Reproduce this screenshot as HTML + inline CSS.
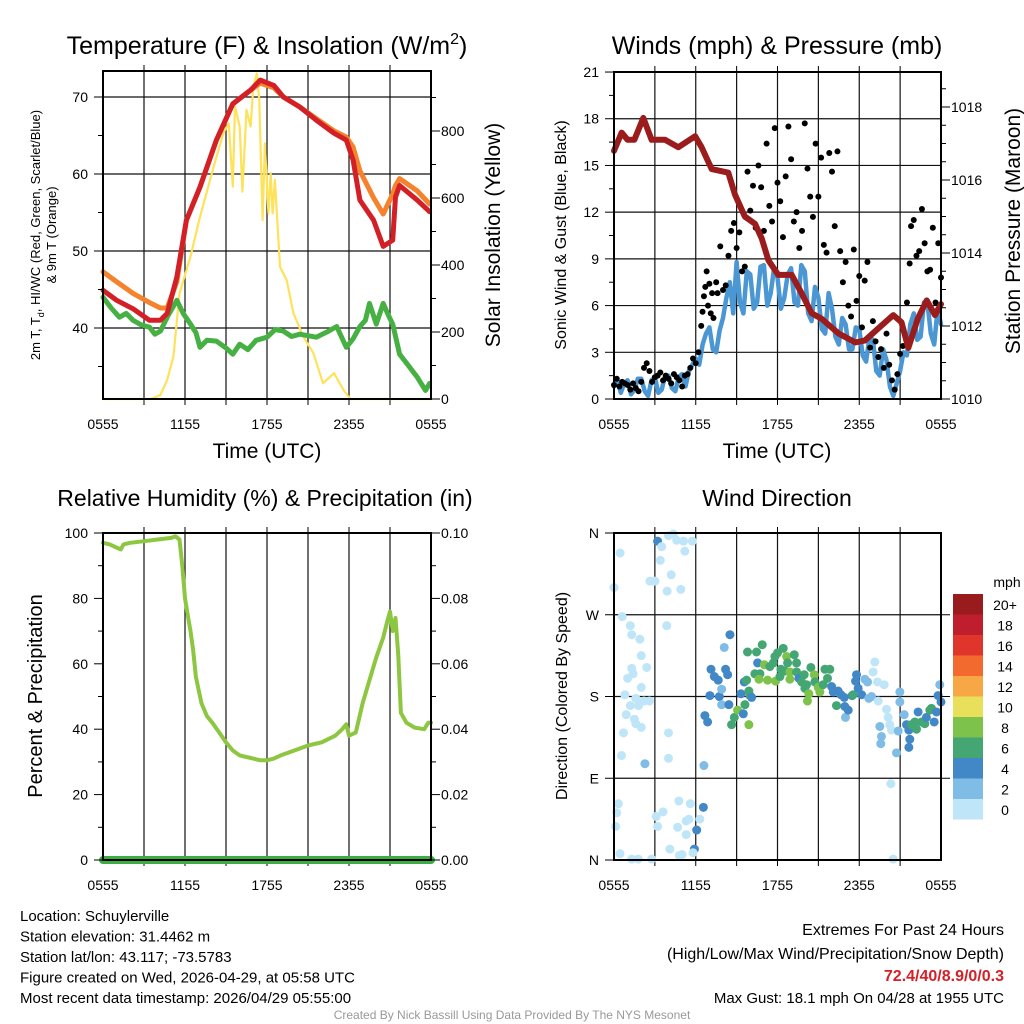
<!DOCTYPE html>
<html><head><meta charset="utf-8"><style>
html,body{margin:0;padding:0;background:#fff;}
svg{display:block;font-family:"Liberation Sans",sans-serif;}
</style></head><body>
<svg id="c" width="1024" height="1024" viewBox="0 0 1024 1024" xmlns="http://www.w3.org/2000/svg"></svg>
<script>
// ---------- DATA ----------
const xTickLabels = ["0555","1155","1755","2355","0555"];
const tempHours = [0,1.0,2.2,3.4,4.2,4.7,5.4,6.1,7.1,8.3,9.5,10.8,11.5,12.5,13.2,14.4,15.6,16.9,17.8,18.3,18.8,19.8,20.5,21.2,21.4,21.7,23.0,23.9];
const tempRed = [44.9,43.6,42.5,41.0,41.0,41.9,46.6,54.0,58.3,64.4,69.1,70.9,72.2,71.5,70.0,68.7,67.0,65.3,64.4,61.8,56.6,54.0,50.6,51.4,57.0,58.5,56.6,55.1];
const tempOrange = [47.3,46.0,44.5,43.3,42.6,42.6,46.0,54.0,58.3,64.4,69.1,70.9,71.8,71.2,70.0,68.7,67.2,65.6,64.8,63.5,60.4,56.9,54.8,57.4,58.5,59.4,57.8,56.1];
const greenHours = [0,0.6,1.2,1.7,2.2,2.8,3.4,3.8,4.2,4.7,5.4,5.9,6.4,6.8,7.1,7.6,8.3,9.0,9.5,10.0,10.6,11.2,12.0,12.6,13.2,13.8,14.4,15.6,16.4,17.1,17.8,18.3,18.8,19.2,19.5,20.0,20.5,20.9,21.2,21.7,22.4,23.0,23.6,23.9];
const tempGreen = [44.0,42.6,41.4,41.9,41.0,40.4,40.1,39.2,39.6,41.4,43.6,41.8,40.5,39.4,37.5,38.4,38.3,37.4,36.6,37.9,37.2,38.4,38.8,39.8,39.6,38.9,39.2,38.8,39.5,40.2,37.5,38.6,40.2,41.0,43.2,40.5,43.2,41.6,40.5,36.6,35.0,33.6,31.9,32.8];
const solarHours = [0,3.5,4.2,4.7,5.15,5.6,6.4,7.1,8.1,8.8,9.2,9.5,9.66,10.0,10.2,10.5,10.8,11.0,11.25,11.44,11.68,11.85,12.1,12.27,12.41,12.58,12.95,13.44,13.93,14.66,15.4,16.1,16.9,17.6,18.1,24];
const solarVals = [0,0,12,57,126,315,425,544,694,793,823,634,873,813,619,863,813,932,972,892,534,763,554,674,554,654,395,355,256,186,136,47,77,27,0,0];
const windStepHours = 0.25;
const windSpeed = [0.8,1.2,0.4,1.0,1.2,0.3,0.6,1.3,1.3,0.5,0.2,1.2,1.4,0.4,0.6,1.5,1.5,0.7,0.5,1.4,1.6,0.8,1.8,2.2,
2.6,2.2,3.5,4.2,4.6,3.2,3.0,4.4,5.2,6.5,7.5,5.5,8.8,6.2,5.5,8.2,8.0,5.8,6.2,8.5,8.6,6.0,6.8,8.4,7.8,5.8,6.5,8.0,8.4,6.2,6.0,8.6,8.2,5.5,5.0,7.2,6.5,4.5,4.2,6.8,5.8,4.0,3.5,5.2,4.8,3.2,3.2,4.6,4.5,2.8,2.4,4.0,3.8,1.8,1.5,3.2,2.5,0.8,0.2,1.0,1.8,3.0,2.8,4.8,5.5,3.8,4.0,6.2,6.2,4.2,3.5,5.8,4.8];
const windHours = windSpeed.map((_,i)=>i*windStepHours);
const gustHours = [0,0.2,0.4,0.6,0.8,1.0,1.2,1.4,1.6,1.8,2.0,2.2,2.4,2.6,2.8,3.0,3.2,3.4,3.6,3.8,4.0,4.2,4.4,4.6,4.8,5.0,5.2,5.4,5.6,5.8,6.0,6.2,6.4,6.5,6.6,6.7,6.8,6.9,7.0,7.1,7.2,7.3,7.5,7.6,7.8,8.0,8.2,8.4,8.6,8.8,9.0,9.2,9.4,9.6,9.8,10.0,10.2,10.4,10.6,10.8,11.0,11.2,11.4,11.6,11.8,12.0,12.2,12.4,12.6,12.8,13.0,13.2,13.4,13.6,13.8,14.0,14.2,14.4,14.6,14.8,15.0,15.2,15.4,15.6,15.8,16.0,16.2,16.4,16.6,16.8,17.0,17.2,17.4,17.6,17.8,18.0,18.2,18.4,18.6,18.8,19.0,19.2,19.4,19.6,19.8,20.0,20.2,20.4,20.6,20.8,21.0,21.2,21.5,21.7,21.8,22.0,22.2,22.4,22.6,22.8,23.0,23.2,23.4,23.6,23.8,24.0];
const gustSpeed = [0.9,1.3,0.8,1.1,1.0,0.9,0.6,1.0,0.7,0.5,1.1,2.0,2.3,1.8,1.1,1.4,1.5,1.7,1.2,1.5,1.3,1.0,1.6,1.4,1.2,0.8,1.5,1.6,2.0,2.6,2.3,3.0,4.7,5.6,6.6,7.2,8.2,6.0,7.4,5.5,6.8,5.2,7.5,6.8,9.8,7.0,7.3,9.2,10.8,11.3,9.7,10.7,8.2,8.5,14.6,12.1,13.7,11.0,15.0,13.6,10.8,16.4,12.4,11.4,17.4,13.9,12.7,10.4,14.3,17.5,15.4,11.4,12.0,9.7,10.8,17.7,14.8,13.0,11.7,16.4,13.0,15.5,9.9,9.4,15.8,14.6,11.1,15.9,9.5,7.5,8.8,6.0,5.3,9.6,6.3,7.9,4.6,7.6,8.8,3.3,5.0,3.7,2.7,3.2,2.0,4.2,2.2,1.2,0.6,1.6,2.9,3.4,6.2,8.7,11.1,11.5,9.2,9.5,12.2,10.0,8.2,8.3,11.0,6.2,10.0,7.8];
const presHours = [0,0.56,1.0,1.5,2.15,2.76,3.74,4.72,5.95,6.43,7.17,8.39,8.88,9.6,10.35,10.84,11.33,12.06,13.04,13.77,14.5,15.24,16.46,17.7,18.4,19.6,20.5,21.1,21.6,22.3,22.95,23.56,24.0];
const presVals = [1016.8,1017.3,1017.1,1017.1,1017.7,1017.1,1017.1,1016.9,1017.2,1016.9,1016.3,1016.2,1015.6,1015.0,1014.8,1014.4,1013.8,1013.4,1013.4,1012.9,1012.35,1012.2,1011.8,1011.55,1011.6,1012.0,1012.3,1012.1,1011.4,1012.2,1012.7,1012.3,1012.6];
const rhHours = [0,0.5,1,1.3,1.5,2,3,4,5,5.3,5.6,5.8,6,6.2,6.4,6.6,6.8,7.2,7.6,8,8.5,9,9.5,10,10.5,11,11.5,12,12.5,13,14,15,16,17,17.5,17.8,18,18.5,19,19.5,20,20.5,20.8,21,21.2,21.4,21.6,21.8,22.2,22.8,23.5,23.8,24];
const rhVals = [97,96.5,95.5,95,96.5,97,97.5,98,98.5,99,98,90,80,75,70,64,56,48,44,42,39,36,33.5,32,31.5,31,30.5,30.5,31,32,33.5,35,36,38,40,41.5,38,39,48,55,62,68,73,76,70,74,63,45,42,40.5,40,42,42];
const precipHours = [0,24];
const precipVals = [0,0];
const dirHours = [0.0,0.45,0.6,1.2,1.3,2.0,1.9,1.3,1.4,1.0,2.4,2.0,1.6,0.8,0.9,1.2,1.8,2.2,2.6,1.5,1.6,2.0,0.7,4.0,4.0,0.55,2.27,6.6,3.2,3.5,4.0,4.36,4.6,5.1,5.75,5.2,3.4,4.2,2.64,3.0,3.9,4.9,3.87,0.32,0.2,0.12,0.44,1.3,1.78,2.76,3.1,3.6,3.2,4.76,5.6,5.3,5.5,6.3,6.56,4.67,5.3,6.07,4.1,4.8,5.0,5.9,5.8,
6.67,6.87,7.04,7.12,7.36,7.65,7.73,7.9,7.9,8.19,8.34,8.51,8.09,8.43,8.63,8.83,9.07,9.32,9.49,9.61,9.56,9.73,9.9,9.98,9.9,10.1,9.8,10.46,10.54,10.34,10.71,10.88,10.64,11.03,11.27,11.44,11.69,11.81,12.0,11.86,12.18,12.25,12.42,12.67,12.74,12.54,12.91,12.91,13.23,13.4,13.4,13.57,13.77,13.96,14.01,14.13,14.2,14.3,14.45,14.7,14.74,14.99,15.11,15.35,15.48,15.84,15.67,15.97,16.09,16.33,16.45,16.65,16.9,16.94,16.99,17.19,17.48,17.55,17.73,17.8,17.92,18.17,18.41,18.61,18.7,18.9,19.02,19.14,19.34,19.39,19.83,20.0,20.12,20.24,20.37,19.51,19.63,19.58,20.32,20.49,20.73,20.86,20.98,20.98,21.3,21.47,21.64,21.71,21.64,21.83,22.08,22.2,22.32,22.57,22.81,22.93,23.18,23.3,23.5,23.67,23.91,24.0,23.79];
const dirDegrees = [300,338,268,258,248,225,243,211,205,200,212,190,178,182,160,170,170,175,175,155,150,146,140,140,112,115,106,104,351,345,357,359,352,351,351,340,330,314,307,307,296,298,258,62,52,37,7,1,1,1,48,53,37,65,62,43,45,45,58,36,28,33,12,5,6,12,8,
159,152,181,210,202,198,180,188,171,210,204,248,234,171,149,157,165,183,161,171,196,198,186,181,149,179,229,229,217,205,205,237,199,215,198,213,217,224,228,197,202,210,233,224,217,208,207,199,226,217,207,200,196,204,189,193,175,183,212,204,196,190,185,193,210,210,200,191,185,170,186,182,179,169,157,165,181,182,197,204,189,182,199,196,178,180,207,218,196,175,193,166,157,149,143,147,136,128,84,1,118,142,185,174,160,149,143,133,124,149,152,144,163,152,150,157,165,167,152,163,193,174,181];
const dirSpeed = [1,1,1,1,1,1,1,1,1,1,1,1,1,1,1,1,1,1,1,1,1,1,1,1,1,1,3,3,5,1,1,1,1,1,1,1,1,1,1,1,1,1,1,1,1,1,1,1,1,1,1,1,1,1,1,1,1,1,5,1,1,5,1,1,1,5,1,
5,5,5,5,5,5,5,3,3,5,5,5,3,5,7,7,9,5,5,7,5,7,7,7,9,5,7,7,5,7,7,7,9,9,9,7,7,7,7,9,7,7,7,9,7,7,9,9,7,7,7,5,7,7,7,7,9,9,7,9,7,9,9,7,7,7,7,5,5,7,5,5,5,5,3,5,5,7,5,5,5,5,3,3,3,3,1,1,1,1,1,1,1,1,1,3,3,3,1,1,3,3,3,3,3,5,5,5,5,7,7,7,5,7,7,5,7,7,5,5,3,5,5];
const cbLabels = ["20+","18","16","14","12","10","8","6","4","2","0"];
const cbColors = ["#9a1b1e","#be1e2d","#e0352b","#f26a2e","#f7a746","#e8e05a","#7dc24b","#44a773","#4288c6","#7fbce6","#bfe6f8"];

// ---------- DRAW ----------
const svg = document.getElementById('c');
const NS = 'http://www.w3.org/2000/svg';
function el(tag, attrs, parent){ const e=document.createElementNS(NS,tag); for(const k in attrs) e.setAttribute(k,attrs[k]); (parent||svg).appendChild(e); return e; }
function txt(s, x, y, size, anchor, extra){ const t=el('text',Object.assign({x:x,y:y,'font-size':size,'text-anchor':anchor||'middle',fill:'#000'},extra||{})); t.textContent=s; return t; }

const P = {
  p1:{x0:103,x1:431,y0:71,y1:399},
  p2:{x0:614,x1:941,y0:72,y1:399},
  p3:{x0:103,x1:431,y0:533,y1:860},
  p4:{x0:614,x1:941,y0:533,y1:860}
};
function xh(p,h){ return p.x0 + h*(p.x1-p.x0)/24; }
const yT = v => 328-(v-40)*7.7;
const yS = v => 399-v*0.335;
const yW = v => 399-v*15.57;
const yP = v => 399-(v-1010)*36.5;
const yRH = v => 860-v*3.27;
const yPr = v => 860-v*3270;
const yD = v => 860-v*0.9083;

function frame(p, name, hGrid){
  const g = el('g',{});
  
  
  for(let i=1;i<8;i++){ const x=xh(p,i*3); el('line',{x1:x,x2:x,y1:p.y0,y2:p.y1,stroke:'#111','stroke-width':1.2},g);
    el('line',{x1:x,x2:x,y1:p.y0-6,y2:p.y0,stroke:'#000','stroke-width':1},g);
    el('line',{x1:x,x2:x,y1:p.y1,y2:p.y1+6,stroke:'#000','stroke-width':1},g); }
  hGrid.forEach(y=>el('line',{x1:p.x0,x2:p.x1,y1:y,y2:y,stroke:'#111','stroke-width':1.2},g));
  xTickLabels.forEach((s,i)=>{ const x=xh(p,i*6); const t=txt(s,x,p.y1+30,14);   });
}
function box(p){ const r=el('rect',{x:p.x0,y:p.y0,width:p.x1-p.x0,height:p.y1-p.y0,fill:'none',stroke:'#000','stroke-width':2});
    }
function ticksL(p, vals, fy, labels, minor){
  vals.forEach((v,i)=>{ const y=fy(v); el('line',{x1:p.x0-9,x2:p.x0,y1:y,y2:y,stroke:'#000'});
    const t=txt(labels[i],p.x0-15,y+5,14,'end');   });
  (minor||[]).forEach(v=>{const y=fy(v); el('line',{x1:p.x0-5,x2:p.x0,y1:y,y2:y,stroke:'#000'});});
}
function ticksR(p, vals, fy, labels, minor){
  vals.forEach((v,i)=>{ const y=fy(v); el('line',{x1:p.x1,x2:p.x1+9,y1:y,y2:y,stroke:'#000'});
    const t=txt(labels[i],p.x1+10,y+5,14,'start');   });
  (minor||[]).forEach(v=>{const y=fy(v); el('line',{x1:p.x1,x2:p.x1+5,y1:y,y2:y,stroke:'#000'});});
}
function line(p, hs, vs, fy, color, w, name){
  const pts = hs.map((h,i)=>xh(p,h).toFixed(1)+','+fy(vs[i]).toFixed(1)).join(' ');
  const l=el('polyline',{points:pts,fill:'none',stroke:color,'stroke-width':w,'stroke-linejoin':'round','stroke-linecap':'round'});
    return l;
}

// Panel 1
const p1=P.p1;
frame(p1,'temperature-panel',[40,50,60,70].map(yT));
line(p1,solarHours,solarVals,yS,'#fde25a',2.2,'solar-insolation-line');
line(p1,tempHours,tempOrange,yT,'#f5822d',5,'9m-temperature-line');
line(p1,greenHours,tempGreen,yT,'#46b043',5,'dewpoint-line');
line(p1,tempHours,tempRed,yT,'#d32027',5,'2m-temperature-line');
box(p1);
ticksL(p1,[40,50,60,70],yT,["40","50","60","70"],[35,45,55,65]);
ticksR(p1,[0,200,400,600,800],yS,["0","200","400","600","800"],[100,300,500,700,900]);
let t;
t=txt('',267,54,25); t.innerHTML='Temperature (F) &amp; Insolation (W/m<tspan dy="-10" font-size="16">2</tspan><tspan dy="10">)</tspan>';
 
t=txt('Time (UTC)',267,458,21);  
t=txt('Solar Insolation (Yellow)',0,0,21,'middle',{transform:'translate(500,235) rotate(-90)'});  
t=txt('',0,0,13,'middle',{transform:'translate(40,235) rotate(-90)'});
t.innerHTML='2m T, T<tspan dy="4" font-size="9">d</tspan><tspan dy="-4">, HI/WC (Red, Green, Scarlet/Blue)</tspan>';
 
t=txt('',0,0,13,'middle',{transform:'translate(56,235) rotate(-90)'}); t.textContent='& 9m T (Orange)';
 

// Panel 2
const p2=P.p2;
frame(p2,'winds-panel',[3,6,9,12,15,18].map(yW));
line(p2,windHours,windSpeed,yW,'#4b97d3',4.5,'sonic-wind-line');
gustHours.forEach((h,i)=>{ const c=el('circle',{cx:xh(p2,h),cy:yW(gustSpeed[i]),r:3,fill:'#000'});
    });
line(p2,presHours,presVals,yP,'#9b1c1c',6,'pressure-line');
box(p2);
ticksL(p2,[0,3,6,9,12,15,18,21],yW,["0","3","6","9","12","15","18","21"],[1.5,4.5,7.5,10.5,13.5,16.5,19.5]);
ticksR(p2,[1010,1012,1014,1016,1018],yP,["1010","1012","1014","1016","1018"],[1010.5,1011,1011.5,1012.5,1013,1013.5,1014.5,1015,1015.5,1016.5,1017,1017.5,1018.5]);
t=txt('Winds (mph) & Pressure (mb)',777,54,25);  
t=txt('Time (UTC)',777,458,21);  
t=txt('Sonic Wind & Gust (Blue, Black)',0,0,16,'middle',{transform:'translate(566,235) rotate(-90)'});  
t=txt('Station Pressure (Maroon)',0,0,21,'middle',{transform:'translate(1020,231) rotate(-90)'});  

// Panel 3
const p3=P.p3;
frame(p3,'humidity-panel',[]);
line(p3,rhHours,rhVals,yRH,'#8dc641',4,'relative-humidity-line');
line(p3,precipHours,precipVals,yPr,'#3cad43',8,'precipitation-line');
box(p3);
ticksL(p3,[0,20,40,60,80,100],yRH,["0","20","40","60","80","100"],[10,30,50,70,90]);
ticksR(p3,[0,0.02,0.04,0.06,0.08,0.10],yPr,["0.00","0.02","0.04","0.06","0.08","0.10"],[0.01,0.03,0.05,0.07,0.09]);
t=txt('Relative Humidity (%) & Precipitation (in)',265,506,23);  
t=txt('Percent & Precipitation',0,0,20,'middle',{transform:'translate(42,696) rotate(-90)'});  

// Panel 4
const p4=P.p4;
frame(p4,'wind-direction-panel',[90,180,270].map(yD));
function speedColor(s){ const idx=Math.min(10,Math.floor(s/2)); return cbColors[10-idx]; }
dirHours.forEach((h,i)=>{ const c=el('circle',{cx:xh(p4,h),cy:yD(dirDegrees[i]),r:4.5,fill:speedColor(dirSpeed[i])});
    });
box(p4);
ticksL(p4,[0,90,180,270,360],yD,["N","E","S","W","N"],[]);
el('line',{x1:p4.x1,x2:p4.x1+9,y1:yD(270),y2:yD(270),stroke:'#000'});
el('line',{x1:p4.x1,x2:p4.x1+9,y1:yD(180),y2:yD(180),stroke:'#000'});
el('line',{x1:p4.x1,x2:p4.x1+9,y1:yD(90),y2:yD(90),stroke:'#000'});
t=txt('Wind Direction',777,506,23);  
t=txt('Direction (Colored By Speed)',0,0,16,'middle',{transform:'translate(567,696) rotate(-90)'});  
// colorbar
const cb=el('g',{});  
cbColors.forEach((c,i)=>{ el('rect',{x:953,y:594+i*20.5,width:30,height:20.5,fill:c},cb);
  const l=txt(cbLabels[i],1005,610+i*20.5,14);   });
t=txt('mph',1007,587,14);  

// Footer
const info=["Location: Schuylerville","Station elevation: 31.4462 m","Station lat/lon: 43.117; -73.5783","Figure created on Wed, 2026-04-29, at 05:58 UTC","Most recent data timestamp: 2026/04/29 05:55:00"];
info.forEach((s,i)=>{ const l=txt(s,20,921+i*20.5,15,'start');   });
t=txt('Extremes For Past 24 Hours',1004,935,16,'end');  
t=txt('(High/Low/Max Wind/Precipitation/Snow Depth)',1004,959,16,'end');  
t=txt('72.4/40/8.9/0/0.3',1004,981,16,'end',{fill:'#d42027','font-weight':'bold'});  
t=txt('Max Gust: 18.1 mph On 04/28 at 1955 UTC',1004,1003,15,'end');  
t=txt('Created By Nick Bassill Using Data Provided By The NYS Mesonet',512,1019,12,'middle',{fill:'#999'});  
</script>
</body></html>
